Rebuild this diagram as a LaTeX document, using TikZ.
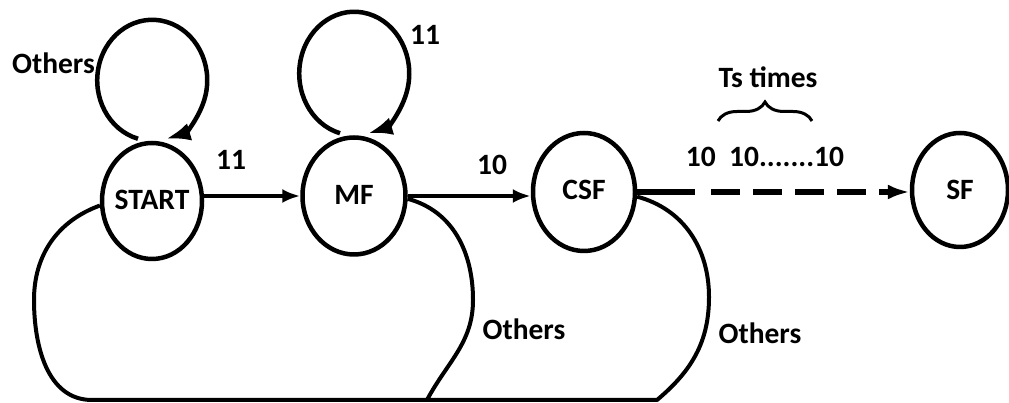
\documentclass[tikz,border=0pt]{standalone}
\usepackage{fontspec}
\setmainfont{Carlito}
\usetikzlibrary{shapes.geometric, arrows.meta, decorations.pathreplacing}
\begin{document}
\begin{tikzpicture}[x=1pt,y=1pt,
  state/.style={ellipse, draw, line width=4.5pt, inner sep=0pt,
    font=\fontsize{29.5pt}{32pt}\selectfont\bfseries},
  lbl/.style={font=\fontsize{29.5pt}{32pt}\selectfont\bfseries, inner sep=0pt},
  edgeline/.style={line width=4.5pt, -{Latex[length=18pt,width=14pt]}},
  selfloop/.style={line width=4.5pt, -{Latex[length=24pt,width=18pt]}},
  bigloop/.style={line width=4pt, line join=round},
]
\useasboundingbox (0,0) rectangle (1009,403);

% states
\node[state, minimum width=100pt, minimum height=116pt] (start) at (152,202) {\makebox[0pt][c]{\raisebox{3pt}{START}}};
\node[state, minimum width=103pt, minimum height=117pt] (mf) at (354,207) {\makebox[0pt][c]{\raisebox{2pt}{MF}}};
\node[state, minimum width=102pt, minimum height=118pt] (csf) at (584,211) {\makebox[0pt][c]{\raisebox{4pt}{CSF}}};
\node[state, minimum width=96pt, minimum height=114pt] (sf) at (960,213) {\makebox[0pt][c]{SF}};

% self loops
\draw[selfloop] ([xshift=-14pt,yshift=2pt]start.north)
  arc[start angle=255, end angle=-75, x radius=55, y radius=60.5];
\draw[selfloop] ([xshift=-14pt,yshift=2pt]mf.north)
  arc[start angle=255, end angle=-75, x radius=55, y radius=61.8];

% straight transitions
\draw[edgeline] (start.east |- mf) -- (mf.west);
\draw[edgeline] (mf.east) -- (mf.east -| csf.west);
\draw[line width=6pt, -{Latex[length=22pt,width=15pt]},
  dash pattern=on 58pt off 16pt on 29pt off 13pt on 29pt off 13pt on 29pt off 13pt on 29pt off 13pt on 80pt]
  (csf.east) -- (csf.east -| sf.west);

% big "Others" loops
\coordinate (a1) at (473,103);
\coordinate (a2) at (427,3);
\coordinate (a3) at (92,3);
\coordinate (a4) at (34,103);
\coordinate (b1) at (709,106);
\coordinate (b2) at (657,3);
\draw[bigloop] (mf.-3) to[out=-15,in=90] (a1) to[out=-90,in=62] (a2) -- (a3)
  to[out=180,in=-90] (a4) to[out=90,in=200] (start.185);
\draw[bigloop] (csf.-5) to[out=-15,in=90] (b1) to[out=-90,in=40] (b2) -- (a2);

% brace
\coordinate (brl) at (718,282);
\coordinate (brr) at (812,282);
\draw[line width=3pt, decorate, decoration={brace, amplitude=19pt}] (brl) -- (brr);

% labels
\node[lbl] (lothers1) at (53.5,340) {Others};
\node[lbl] (l11a) at (231,243) {11};
\node[lbl] (l11b) at (425,368) {11};
\node[lbl] (l10) at (492,238) {10};
\node[lbl] (lothers2) at (524,74) {Others};
\node[lbl] (lothers3) at (760,70) {Others};
\node[lbl] (lts) at (768,326) {Ts times};
\node[lbl] (lseq) at (765,246) {10\hspace{0.45em}10.......10};
\end{tikzpicture}
\end{document}
